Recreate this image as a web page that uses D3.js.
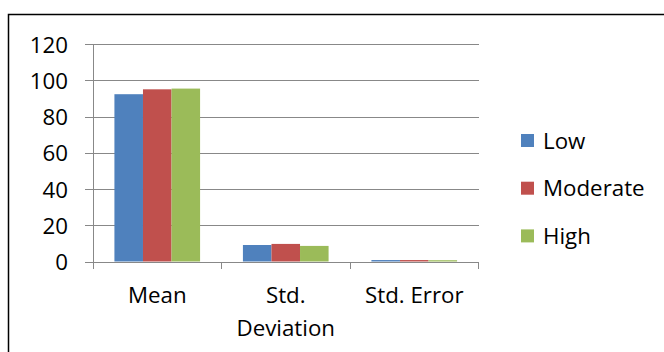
<!DOCTYPE html>
<html>
<head>
<meta charset="utf-8">
<script src="https://cdn.jsdelivr.net/npm/d3@7"></script>
<style>
  html, body { margin: 0; padding: 0; background: #fff; }
  svg { display: block; }
  text { font-family: "Open Sans", Lato, sans-serif; fill: #000; }
</style>
</head>
<body>
<svg id="chart" width="664" height="352"></svg>
<script>
const categories = ["Mean", "Std. Deviation", "Std. Error"];
const categoryLines = [["Mean"], ["Std.", "Deviation"], ["Std. Error"]];
const seriesNames = ["Low", "Moderate", "High"];
const lowValues = [92.3, 9.1, 0.8];
const moderateValues = [95.0, 9.7, 0.8];
const highValues = [95.4, 8.6, 0.7];
const yTicks = [0, 20, 40, 60, 80, 100, 120];
const colors = ["#4F81BD", "#C0504D", "#9BBB59"];

(function () {
const seriesValues = [lowValues, moderateValues, highValues];
const data = categories.map((c, i) => ({
  category: c,
  values: seriesNames.map((s, j) => ({ series: s, value: seriesValues[j][i] }))
}));

const svg = d3.select("#chart");
const fontSize = 22.3;
const fontFam = "'Open Sans', Lato, sans-serif";

// outer border
svg.append("rect")
  .attr("x", 8.5).attr("y", 14.5)
  .attr("width", 700).attr("height", 400)
  .attr("fill", "none").attr("stroke", "#000").attr("stroke-width", 1.5);

const pLeft = 93, pRight = 478.5, pTop = 44, pBottom = 261.5;

const x0 = d3.scaleBand().domain(categories).range([pLeft, pRight]).padding(0);
const x1 = d3.scaleBand().domain(seriesNames).range([0, x0.bandwidth()])
  .paddingInner(0).paddingOuter(0.75);
const y = d3.scaleLinear().domain([0, 120]).range([pBottom, pTop]);
const color = d3.scaleOrdinal().domain(seriesNames).range(colors);

// gridlines
const grid = svg.append("g").attr("transform", `translate(${pLeft},0)`)
  .call(d3.axisLeft(y).tickValues(yTicks).tickSize(-(pRight - pLeft)).tickFormat(""));
grid.select(".domain").remove();
grid.selectAll(".tick line").attr("stroke", "#888").attr("stroke-width", 1)
  .attr("shape-rendering", "crispEdges");

// y axis with outward ticks and labels
const yAxis = svg.append("g").attr("transform", `translate(${pLeft},0)`)
  .call(d3.axisLeft(y).tickValues(yTicks).tickSizeInner(8).tickSizeOuter(0).tickPadding(17));
yAxis.select(".domain").attr("stroke", "#888").attr("shape-rendering", "crispEdges");
yAxis.selectAll(".tick line").attr("stroke", "#888").attr("shape-rendering", "crispEdges");
yAxis.selectAll("text").attr("font-size", fontSize).attr("dy", "0.36em")
  .style("font-family", fontFam);

// bars
const groups = svg.append("g").selectAll("g").data(data).join("g")
  .attr("transform", d => `translate(${x0(d.category)},0)`);
groups.selectAll("rect").data(d => d.values).join("rect")
  .attr("x", d => x1(d.series))
  .attr("width", x1.bandwidth())
  .attr("y", d => y(d.value))
  .attr("height", d => y(0) - y(d.value))
  .attr("fill", d => color(d.series));

// x axis line and boundary ticks
const xAxis = svg.append("g").attr("transform", `translate(0,${pBottom})`)
  .call(d3.axisBottom(x0).tickSize(0).tickPadding(0));
xAxis.select(".domain").attr("stroke", "#888").attr("shape-rendering", "crispEdges");
const boundaries = categories.map(c => x0(c)).concat([x0(categories[categories.length - 1]) + x0.bandwidth()]);
xAxis.selectAll(".bound").data(boundaries).join("line")
  .attr("class", "bound")
  .attr("x1", d => d).attr("x2", d => d)
  .attr("y1", 0).attr("y2", 7)
  .attr("stroke", "#888").attr("shape-rendering", "crispEdges");
xAxis.selectAll(".tick text").each(function(d, i) {
  const t = d3.select(this);
  t.text(null).attr("y", 0).attr("dy", null)
    .attr("font-size", fontSize)
    .style("font-family", fontFam);
  categoryLines[i].forEach((line, k) => {
    t.append("tspan").attr("x", 0).attr("y", 41.5 + k * 32.5).text(line);
  });
});

// legend
const legend = svg.append("g").selectAll("g").data(seriesNames).join("g")
  .attr("transform", (d, i) => `translate(521,${140.5 + i * 47.7})`);
legend.append("rect")
  .attr("x", 0).attr("y", -6.5).attr("width", 13).attr("height", 13)
  .attr("fill", d => color(d));
legend.append("text")
  .attr("x", 22).attr("y", 0).attr("dy", "0.36em")
  .attr("font-size", fontSize)
  .style("font-family", fontFam)
  .text(d => d);
})();
</script>
</body>
</html>
